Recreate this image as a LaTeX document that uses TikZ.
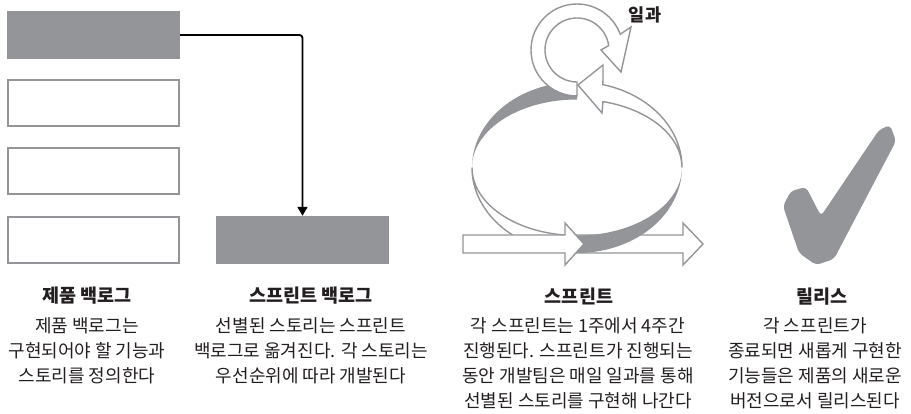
\documentclass[tikz,border=0pt]{standalone}
\usepackage{fontspec}
\setmainfont{Noto Sans CJK KR}
\usetikzlibrary{arrows.meta,calc}
\definecolor{sgray}{HTML}{939598}
\definecolor{ink}{HTML}{231F20}

\begin{document}
\begin{tikzpicture}[x=1pt, y=1pt]
	\tikzstyle{every node} = [inner sep=0pt, text=ink]
	\tikzstyle{fullbox}  = [rectangle, fill=sgray, minimum width=173pt, minimum height=48pt]
	\tikzstyle{emptybox} = [rectangle, draw=sgray, line width=2pt, fill=white, minimum width=171pt, minimum height=46pt]
	\tikzstyle{ribbon}   = [draw=sgray, line width=1.4pt, fill=white]
	\tikzstyle{band}     = [fill=sgray]
	\tikzstyle{title}    = [font=\bfseries\fontsize{18.5}{22}\selectfont, anchor=base]
	\tikzstyle{desc}     = [font=\fontsize{18}{25}\selectfont, align=center, anchor=north]
	\useasboundingbox (0,0) rectangle (911,413);

	% backlogs
	\node[fullbox]  (pb1) at (93.5,378) {};
	\node[emptybox] (pb2) at (93.5,310) {};
	\node[emptybox] (pb3) at (93.5,241.5) {};
	\node[emptybox] (pb4) at (93.5,173) {};
	\node[fullbox]  (sb)  at (302.5,173) {};
	\draw [-{Triangle[length=9pt,width=10pt]}, line width=1.8pt, rounded corners=3pt] (pb1.east) -| (sb.north);

	% sprint loop
	\coordinate (loop) at (577,245.5);
	\coordinate (turn) at (577,363);
	\filldraw[ribbon] ($(loop)+(180:105 and 85.5)$) arc[start angle=180, end angle=265, x radius=105, y radius=85.5]
		-- ($(loop)+(265:105 and 68)$) arc[start angle=265, end angle=180, x radius=105, y radius=68] -- cycle;
	\fill[band] ($(loop)+(180:105 and 85.5)$) arc[start angle=180, end angle=90, x radius=105, y radius=85.5]
		-- ($(loop)+(90:105 and 68)$) arc[start angle=90, end angle=180, x radius=105, y radius=68] -- cycle;
	\filldraw[ribbon] ($(turn)+(270:46)$) arc[start angle=270, end angle=20, radius=46]
		-- (631,386) -- (621,341) -- (601,363)
		-- ($(turn)+(8:32)$) arc[start angle=8, end angle=270, radius=32] -- cycle;
	\filldraw[ribbon] ($(loop)+(0:105 and 85.5)$) arc[start angle=0, end angle=75.7, x radius=105, y radius=85.5]
		-- (603,348) -- (578,328) -- (602,300)
		-- ($(loop)+(75.7:105 and 68)$) arc[start angle=75.7, end angle=0, x radius=105, y radius=68] -- cycle;
	\node[font=\bfseries\fontsize{17.5}{20}\selectfont] (work) at (645,398) {일과};

	% time line
	\filldraw[ribbon] (575,160) -- (683,160) -- (683,148) -- (703,169) -- (683,190) -- (683,178) -- (575,178) -- cycle;
	\fill[band] ($(loop)+(0:105 and 85.5)$) arc[start angle=0, end angle=-95, x radius=105, y radius=85.5]
		-- ($(loop)+(-95:105 and 68)$) arc[start angle=-95, end angle=0, x radius=105, y radius=68] -- cycle;
	\filldraw[ribbon] (463,160) -- (565,160) -- (565,148) -- (584,169) -- (565,190) -- (565,178) -- (463,178) -- cycle;

	% release
	\fill[sgray, rounded corners=4pt] (821,197) -- (879,283) -- (890,288) -- (896,272) -- (834,154) -- (816,148)
		-- (799,160) -- (783,207) -- (791,222) -- (806,226) -- cycle;

	% captions
	\node[title] (t1) at (87,111)  {제품 백로그};
	\node[title] (t2) at (311,111) {스프린트 백로그};
	\node[title] (t3) at (579,110) {스프린트};
	\node[title] (t4) at (822,110) {릴리스};
	\node[desc] (d1) at (87,96)  {제품 백로그는\\구현되어야 할 기능과\\스토리를 정의한다};
	\node[desc] (d2) at (311,96) {선별된 스토리는 스프린트\\백로그로 옮겨진다. 각 스토리는\\우선순위에 따라 개발된다};
	\node[desc] (d3) at (578,96) {각 스프린트는 1주에서 4주간\\진행된다. 스프린트가 진행되는\\동안 개발팀은 매일 일과를 통해\\선별된 스토리를 구현해 나간다};
	\node[desc] (d4) at (815,96) {각 스프린트가\\종료되면 새롭게 구현한\\기능들은 제품의 새로운\\버전으로서 릴리스된다};
\end{tikzpicture}
\end{document}
